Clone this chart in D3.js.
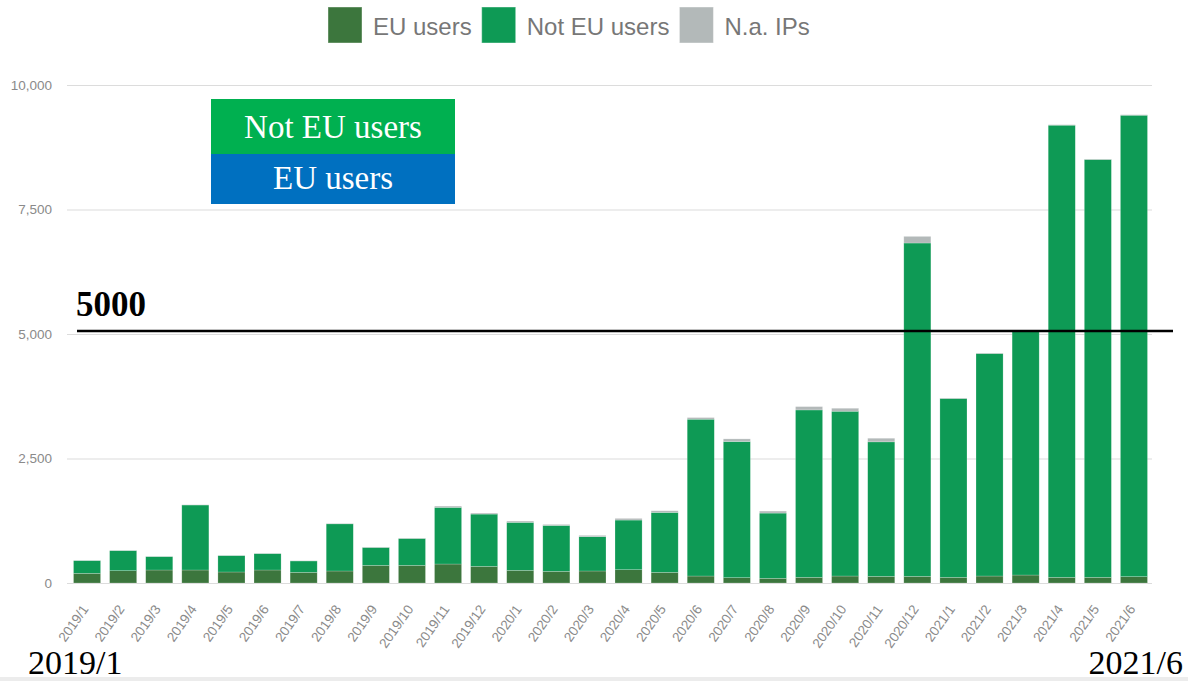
<!DOCTYPE html>
<html><head><meta charset="utf-8">
<script src="https://cdn.jsdelivr.net/npm/d3@7"></script>
<style>
html,body{margin:0;padding:0;background:#fff;}
svg{display:block;}
</style></head>
<body>
<svg id="chart" width="1188" height="681"></svg>
<script>
const months = ["2019/1","2019/2","2019/3","2019/4","2019/5","2019/6","2019/7","2019/8","2019/9","2019/10","2019/11","2019/12",
"2020/1","2020/2","2020/3","2020/4","2020/5","2020/6","2020/7","2020/8","2020/9","2020/10","2020/11","2020/12",
"2021/1","2021/2","2021/3","2021/4","2021/5","2021/6"];
const euUsers = [194,247,261,261,221,261,214,241,354,354,381,334,254,234,241,267,214,140,107,94,114,140,134,134,114,140,160,114,114,127];
const notEuUsers = [256,403,269,1305,329,329,229,947,360,540,1138,1050,964,922,690,997,1203,3149,2734,1310,3361,3309,2700,6693,3591,4468,4896,9079,8390,9266];
const naIps = [5,5,5,5,5,5,5,8,8,8,25,20,25,20,25,33,33,33,53,40,67,60,73,133,10,10,10,10,10,10];
const seriesNames = ["EU users","Not EU users","N.a. IPs"];
const seriesColors = ["#3c763d","#0e9a55","#b3b9b9"];
const yTicks = [0,2500,5000,7500,10000];
const refValue = 5000;
const boxLabels = ["Not EU users","EU users"];
const cornerLabels = ["2019/1","2021/6"];

const svg = d3.select("#chart");
const x = d3.scaleBand().domain(months).range([69,1152]).paddingInner(0.25).paddingOuter(0.125);
const y = d3.scaleLinear().domain([0,10000]).range([583,85]);

// gridlines + y labels
const yAxis = d3.axisLeft(y).tickValues(yTicks).tickSize(-(1152-67)).tickFormat(d3.format(","));
const gy = svg.append("g").attr("transform","translate(67,0)").call(yAxis);
gy.select(".domain").remove();
gy.selectAll(".tick line").attr("stroke","#dcdcdc").attr("stroke-width",1.2);
gy.selectAll(".tick text").attr("x",-15).attr("fill","#8a8a8a")
  .style("font-family","Liberation Sans, Arial, sans-serif").style("font-size","13.5px");

// stacked bars
const rows = months.map((m,i)=>({month:m, "EU users":euUsers[i], "Not EU users":notEuUsers[i], "N.a. IPs":naIps[i]}));
const stack = d3.stack().keys(seriesNames)(rows);
const color = d3.scaleOrdinal().domain(seriesNames).range(seriesColors);
svg.append("g").selectAll("g").data(stack).join("g").attr("fill",d=>color(d.key))
  .selectAll("rect").data(d=>d).join("rect")
  .attr("x",d=>x(d.data.month)).attr("width",x.bandwidth())
  .attr("y",d=>y(d[1])).attr("height",d=>Math.max(0,y(d[0])-y(d[1])))
  .attr("stroke","#ffffff").attr("stroke-opacity",0.35).attr("stroke-width",0.6);

// x axis labels
const xAxis = d3.axisBottom(x).tickSize(0).tickPadding(0);
const gx = svg.append("g").attr("transform","translate(0,583)").call(xAxis);
gx.select(".domain").remove();
gx.selectAll(".tick text")
  .attr("fill","#8a8a8a").style("font-family","Liberation Sans, Arial, sans-serif").style("font-size","13.5px")
  .attr("text-anchor","end").attr("dy",0).attr("y",0)
  .attr("transform","translate(2,26) rotate(-55)");

// legend
const leg = svg.append("g");
let lx = 328;
seriesNames.forEach((n,i)=>{
  leg.append("rect").attr("x",lx).attr("y",7).attr("width",34).attr("height",36).attr("fill",seriesColors[i])
    .attr("stroke","#ffffff").attr("stroke-opacity",0.4);
  const t = leg.append("text").attr("x",lx+45).attr("y",35).text(n)
    .attr("fill","#777").style("font-family","Liberation Sans, Arial, sans-serif").style("font-size","24px");
  lx = lx + 45 + t.node().getComputedTextLength() + 10;
});

// annotation box
const box = svg.append("g");
box.append("rect").attr("x",211).attr("y",99).attr("width",244).attr("height",55).attr("fill","#00b050");
box.append("rect").attr("x",211).attr("y",154).attr("width",244).attr("height",50).attr("fill","#0070c0");
box.append("text").attr("x",333).attr("y",138).attr("text-anchor","middle").attr("fill","#fff")
  .style("font-family","Liberation Serif, Times New Roman, serif").style("font-size","33px").text(boxLabels[0]);
box.append("text").attr("x",333).attr("y",189).attr("text-anchor","middle").attr("fill","#fff")
  .style("font-family","Liberation Serif, Times New Roman, serif").style("font-size","33px").text(boxLabels[1]);

// reference line
const ry = y(refValue) - 3;
svg.append("line").attr("x1",77).attr("x2",1173).attr("y1",ry).attr("y2",ry).attr("stroke","#000").attr("stroke-width",2.5);
svg.append("text").attr("x",76).attr("y",ry-15).text(String(refValue))
  .style("font-family","Liberation Serif, Times New Roman, serif").style("font-size","35px").style("font-weight","bold").attr("fill","#000");

// corner labels
svg.append("text").attr("x",28).attr("y",674).text(cornerLabels[0])
  .style("font-family","Liberation Serif, Times New Roman, serif").style("font-size","34px").attr("fill","#000");
svg.append("text").attr("x",1183).attr("y",674).attr("text-anchor","end").text(cornerLabels[1])
  .style("font-family","Liberation Serif, Times New Roman, serif").style("font-size","34px").attr("fill","#000");

// bottom edge strip
svg.append("rect").attr("x",0).attr("y",677).attr("width",1188).attr("height",4).attr("fill","#ececec");
</script>
</body></html>
